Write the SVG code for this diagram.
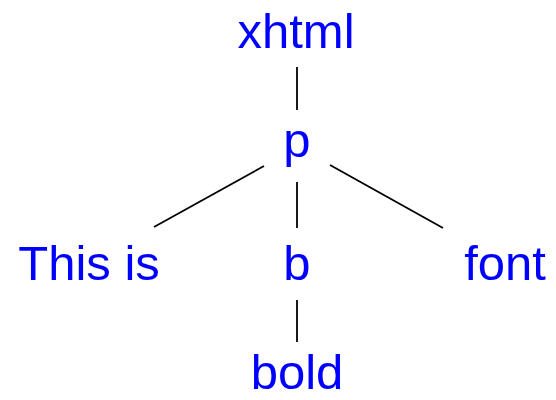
<svg xmlns="http://www.w3.org/2000/svg" width="556" height="400" viewBox="0 0 556 400">
<style>
text{font-family:"Liberation Sans","DejaVu Sans",sans-serif;font-size:49px;fill:#0000ff;text-anchor:middle}
line{stroke:#000;stroke-width:1.8}
</style>
<rect width="556" height="400" fill="#fff"/>
<g id="connectors">
<line x1="297" y1="67" x2="297" y2="110"/>
<line x1="264" y1="166" x2="154" y2="227"/>
<line x1="297" y1="182" x2="297" y2="228"/>
<line x1="330" y1="165" x2="443" y2="228"/>
<line x1="297" y1="300" x2="297" y2="342"/>
</g>
<g id="node-xhtml"><text x="296" y="48">xhtml</text></g>
<g id="node-p"><text x="297" y="157">p</text></g>
<g id="node-thisis"><text x="89" y="280">This is</text></g>
<g id="node-b"><text x="297" y="280">b</text></g>
<g id="node-font"><text x="505" y="280">font</text></g>
<g id="node-bold"><text x="297" y="389">bold</text></g>
</svg>
